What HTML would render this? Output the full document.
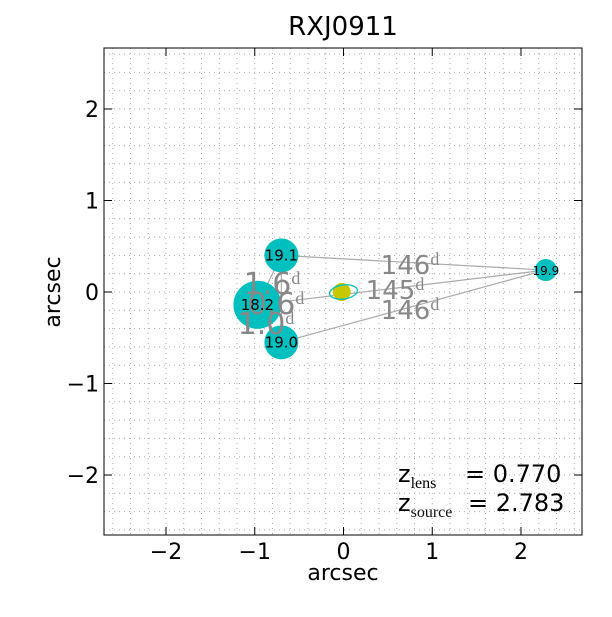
<!DOCTYPE html>
<html><head><meta charset="utf-8"><style>body{margin:0;background:#fff}svg{font-family:"DejaVu Sans","Liberation Sans",sans-serif}</style></head>
<body>
<svg id="c" width="612" height="612">
<rect width="612" height="612" fill="#fff"/>
<g id="grid"></g>
<g id="marks"></g>
<rect x="104" y="48" width="478" height="487" fill="none" stroke="#000" stroke-width="1"/>
<g id="ticks"></g>
<text x="343" y="35" font-size="26" text-anchor="middle">RXJ0911</text>
<text x="343" y="580" font-size="22" text-anchor="middle">arcsec</text>
<text x="60" y="292" font-size="22" text-anchor="middle" transform="rotate(-90 60 292)">arcsec</text>
<g font-size="24">
<text x="398" y="482">z<tspan font-family="Liberation Serif" font-size="16" dy="6">lens</tspan><tspan dy="-6" x="465">= 0.770</tspan></text>
<text x="398" y="511">z<tspan font-family="Liberation Serif" font-size="16" dy="6" fill="#111">source</tspan><tspan dy="-6" x="468">= 2.783</tspan></text>
</g>
</svg>
<script>
const xTicks=[-2,-1,0,1,2];
const yTicks=[-2,-1,0,1,2];
const imgX=[-0.7,-0.97,-0.7,2.28];
const imgY=[0.4,-0.14,-0.55,0.24];
const imgR=[17,24,17,11];
const imgMag=["19.1","18.2","19.0","19.9"];
const delayLabels=["146","145","146"];
const X=v=>343.5+v*88.75, Y=v=>292-v*91.5;
const NS="http://www.w3.org/2000/svg";
function mk(p,t,a){const e=document.createElementNS(NS,t);for(const k in a)e.setAttribute(k,a[k]);p.appendChild(e);return e;}
const grid=document.getElementById('grid'),marks=document.getElementById('marks'),ticks=document.getElementById('ticks');
for(let i=-13;i<=13;i++){const v=i*0.2;
 const gx=mk(grid,'line',{x1:X(v),x2:X(v),y1:48,y2:535,stroke:'#aaa','stroke-dasharray':'1,4'});
 
 const gy=mk(grid,'line',{x1:104,x2:582,y1:Y(v),y2:Y(v),stroke:'#aaa','stroke-dasharray':'1,4'});
 }
xTicks.forEach(v=>{mk(ticks,'line',{x1:X(v),x2:X(v),y1:535,y2:527,stroke:'#000'});mk(ticks,'line',{x1:X(v),x2:X(v),y1:48,y2:56,stroke:'#000'});
 const t=mk(ticks,'text',{x:X(v),y:559,'font-size':22,'text-anchor':'middle'});t.textContent=v<0?'\u2212'+(-v):v;
 });
yTicks.forEach(v=>{mk(ticks,'line',{x1:104,x2:112,y1:Y(v),y2:Y(v),stroke:'#000'});mk(ticks,'line',{x1:582,x2:574,y1:Y(v),y2:Y(v),stroke:'#000'});
 const t=mk(ticks,'text',{x:99,y:Y(v)+8,'font-size':22,'text-anchor':'end'});t.textContent=v<0?'\u2212'+(-v):v;
 });
const pairs=[[3,0],[3,1],[3,2],[0,1],[1,2],[0,2]];
pairs.forEach(([a,b])=>{const l=mk(marks,'line',{x1:X(imgX[a]),y1:Y(imgY[a]),x2:X(imgX[b]),y2:Y(imgY[b]),stroke:'#aaa','stroke-width':1.2});
 });
const le=mk(marks,'ellipse',{cx:X(-0.02),cy:Y(0),rx:9,ry:9,fill:'#c8c800'});
const cr=mk(marks,'ellipse',{cx:X(0),cy:Y(0),rx:14,ry:7,fill:'none',stroke:'#00bfbf','stroke-width':1.3,transform:`rotate(-8 ${X(0)} ${Y(0)})`});

imgX.forEach((x,i)=>{const c=mk(marks,'circle',{cx:X(x),cy:Y(imgY[i]),r:imgR[i],fill:'#00bfbf'});
 });
const dl=[[410,274],[395,299],[410,319]];
delayLabels.forEach((s,i)=>{const t=mk(marks,'text',{x:dl[i][0],y:dl[i][1],'font-size':26,fill:'#888','text-anchor':'middle'});
 t.innerHTML=s+'<tspan font-family="Liberation Serif" font-size="18" dy="-9">d</tspan>';
 });
[['1.6',272,294],['0.6',276,314],['1.0',266,334]].forEach(d=>{const t=mk(marks,'text',{x:d[1],y:d[2],'font-size':30,fill:'#888','text-anchor':'middle'});
 t.innerHTML=d[0]+'<tspan font-family="Liberation Serif" font-size="18" dy="-10">d</tspan>';
 });
imgX.forEach((x,i)=>{const t=mk(marks,'text',{x:X(x),y:Y(imgY[i])+5,'font-size':imgR[i]>12?15:12,'text-anchor':'middle'});t.textContent=imgMag[i];
 });
</script>
</body></html>
